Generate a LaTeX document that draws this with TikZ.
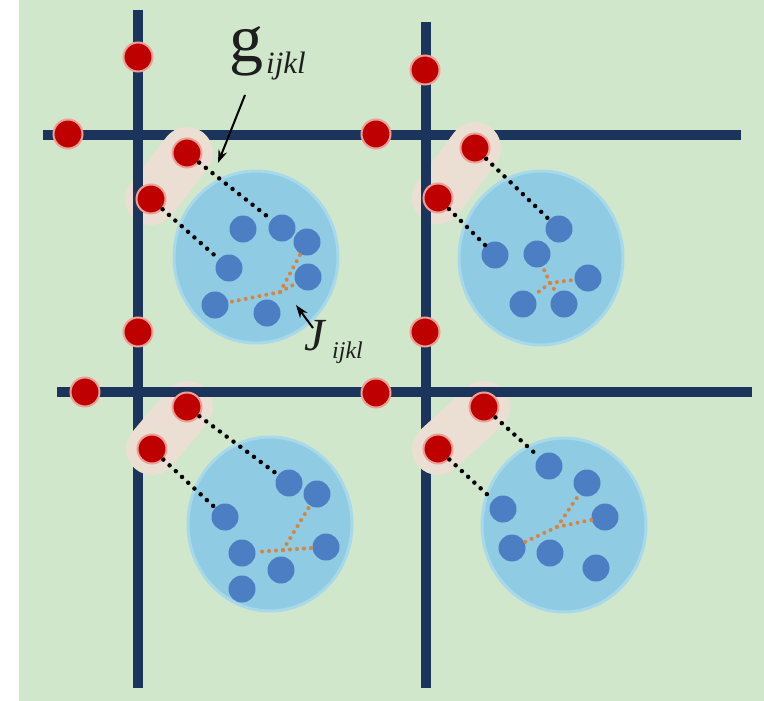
\documentclass[tikz,border=0pt]{standalone}
\usepackage{fontspec}
\setmainfont{Liberation Serif}
\usetikzlibrary{arrows.meta}
\definecolor{bg}{RGB}{208,231,203}
\definecolor{navy}{RGB}{27,52,92}
\definecolor{dotred}{RGB}{190,0,0}
\definecolor{halo}{RGB}{236,160,150}
\definecolor{cellblue}{RGB}{144,203,228}
\definecolor{cellrim}{RGB}{168,217,234}
\definecolor{dotblue}{RGB}{76,126,196}
\definecolor{patch}{RGB}{234,223,210}
\definecolor{orangedot}{RGB}{214,132,64}
\definecolor{labelink}{RGB}{30,30,30}
\begin{document}
\begin{tikzpicture}[x=1pt,y=-1pt,
  gridline/.style={navy,line width=9.5pt},
  patchband/.style={patch,line width=52pt,line cap=round},
  cell/.style={fill=cellblue,draw=cellrim,line width=3pt},
  reddot/.style={circle,fill=dotred,draw=halo,line width=2pt,minimum size=29pt,inner sep=0pt},
  bluedot/.style={circle,fill=dotblue,minimum size=27pt,inner sep=0pt},
  link/.style={black,line width=4.5pt,line cap=round,dash pattern=on 0pt off 8.5pt},
  bond/.style={orangedot,line width=4pt,line cap=round,dash pattern=on 0pt off 7pt},
  pointer/.style={black,line width=2pt,-{Stealth[length=13pt,width=9pt]}},
  lab/.style={anchor=base west,inner sep=0pt,text=labelink},
]
\useasboundingbox (0,0) rectangle (764,701);
\fill[white] (0,0) rectangle (764,701);
\fill[bg] (19,0) rectangle (764,701);

% grid lines
\draw[gridline] (138,10) -- (138,688);
\draw[gridline] (426,22) -- (426,688);
\draw[gridline] (43,135) -- (741,135);
\draw[gridline] (57,392) -- (752,392);

% pale patches behind the boundary pairs
\draw[patchband] (187,153) -- (151,199);
\draw[patchband] (475,148) -- (438,198);
\draw[patchband] (187,407) -- (152,449);
\draw[patchband] (484,407) -- (438,449);

% lines that stay visible over the patches
\draw[gridline] (138,100) -- (138,260);
\draw[gridline] (426,100) -- (426,260);
\draw[gridline] (57,392) -- (752,392);

% cells
\draw[cell] (256,257) ellipse [x radius=82pt, y radius=86pt];
\draw[cell] (541,258) ellipse [x radius=82pt, y radius=87pt];
\draw[cell] (270,524) ellipse [x radius=82pt, y radius=87pt];
\draw[cell] (564,525) ellipse [x radius=82pt, y radius=87pt];

% red dots on the grid
\node[reddot] (r1) at (138,57) {};
\node[reddot] (r2) at (68,134) {};
\node[reddot] (r3) at (376,134) {};
\node[reddot] (r4) at (425,70) {};
\node[reddot] (r5) at (138,332) {};
\node[reddot] (r6) at (425,332) {};
\node[reddot] (r7) at (85,392) {};
\node[reddot] (r8) at (376,393) {};
\node[reddot] (a1) at (187,153) {};
\node[reddot] (a2) at (151,199) {};
\node[reddot] (b1) at (475,148) {};
\node[reddot] (b2) at (438,198) {};
\node[reddot] (c1) at (187,407) {};
\node[reddot] (c2) at (152,449) {};
\node[reddot] (d1) at (484,407) {};
\node[reddot] (d2) at (438,449) {};

% blue dots
\node[bluedot] (A1) at (243,229) {};
\node[bluedot] (A2) at (282,228) {};
\node[bluedot] (A3) at (307,242) {};
\node[bluedot] (A4) at (229,268) {};
\node[bluedot] (A5) at (308,277) {};
\node[bluedot] (A6) at (215,305) {};
\node[bluedot] (A7) at (267,313) {};

\node[bluedot] (B1) at (559,229) {};
\node[bluedot] (B2) at (495,255) {};
\node[bluedot] (B3) at (537,254) {};
\node[bluedot] (B4) at (588,278) {};
\node[bluedot] (B5) at (523,304) {};
\node[bluedot] (B6) at (564,304) {};

\node[bluedot] (C1) at (289,483) {};
\node[bluedot] (C2) at (317,494) {};
\node[bluedot] (C3) at (225,517) {};
\node[bluedot] (C4) at (326,547) {};
\node[bluedot] (C5) at (242,553) {};
\node[bluedot] (C6) at (281,570) {};
\node[bluedot] (C7) at (242,589) {};

\node[bluedot] (D1) at (549,466) {};
\node[bluedot] (D2) at (587,483) {};
\node[bluedot] (D3) at (503,509) {};
\node[bluedot] (D4) at (605,517) {};
\node[bluedot] (D5) at (512,548) {};
\node[bluedot] (D6) at (550,553) {};
\node[bluedot] (D7) at (596,568) {};

% black couplings g
\draw[link] (a1) -- (A2);
\draw[link] (a2) -- (A4);
\draw[link] (b1) -- (B1);
\draw[link] (b2) -- (B2);
\draw[link] (c1) -- (C1);
\draw[link] (c2) -- (C3);
\draw[link] (d1) -- (D1);
\draw[link] (d2) -- (D3);

% orange couplings J
\coordinate (j1) at (280,292);
\coordinate (j2) at (550,283);
\coordinate (j3) at (283,550);
\coordinate (j4) at (557,527);
\draw[bond] (j1) -- (A3); \draw[bond] (j1) -- (A5); \draw[bond] (j1) -- (A6);
\draw[bond] (j2) -- (B3); \draw[bond] (j2) -- (B4); \draw[bond] (j2) -- (B5); \draw[bond] (j2) -- (B6);
\draw[bond] (j3) -- (C5); \draw[bond] (j3) -- (C4); \draw[bond] (j3) -- (C2);
\draw[bond] (j4) -- (D5); \draw[bond] (j4) -- (D2); \draw[bond] (j4) -- (D4);

% labels
\node[lab,font=\fontsize{68}{68}\selectfont] (gmain) at (229,62) {g};
\node[lab,font=\fontsize{31}{31}\selectfont\itshape] (gsub) at (266,74) {ijkl};
\node[lab,font=\fontsize{46}{46}\selectfont\itshape] (Jmain) at (304,350) {J};
\node[lab,font=\fontsize{24}{24}\selectfont\itshape] (Jsub) at (332,358) {ijkl};

\coordinate (gtail) at (245,95);
\coordinate (gtip) at (218,163);
\coordinate (Jtail) at (313,328);
\coordinate (Jtip) at (296,305);
\draw[pointer] (gtail) -- (gtip);
\draw[pointer] (Jtail) -- (Jtip);
\end{tikzpicture}
\end{document}
